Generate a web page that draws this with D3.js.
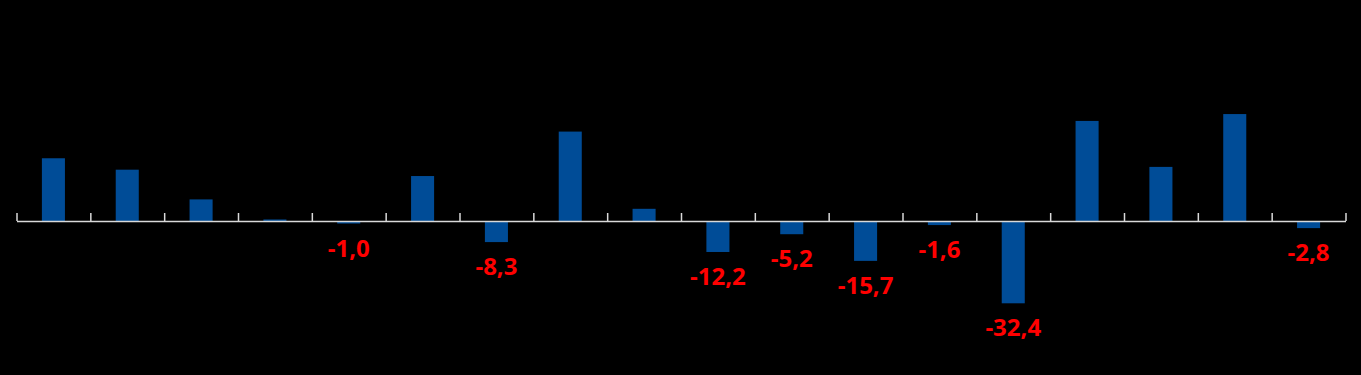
<!DOCTYPE html>
<html>
<head>
<meta charset="utf-8">
<script src="https://cdn.jsdelivr.net/npm/d3@7"></script>
<style>
  html, body { margin: 0; padding: 0; background: #000; }
  #chart { width: 1361px; height: 375px; }
</style>
</head>
<body>
<div id="chart"></div>
<script>
// podaci
const categories = ["1","2","3","4","5","6","7","8","9","10","11","12","13","14","15","16","17","18"];
const values = [24.7, 20.2, 8.5, 0.6, -1.0, 17.7, -8.3, 35.2, 4.8, -12.2, -5.2, -15.7, -1.6, -32.4, 39.4, 21.3, 42.1, -2.8];

const width = 1361;
const height = 375;

const svg = d3.select("#chart")
  .append("svg")
  .attr("width", width)
  .attr("height", height);

svg.append("rect")
  .attr("width", width)
  .attr("height", height)
  .attr("fill", "#000");

// skale
const xScale = d3.scaleBand()
  .domain(categories)
  .range([16.5, 1345.5])
  .paddingInner(0.688)
  .paddingOuter(0.344);

const xEdge = d3.scaleLinear()
  .domain([0, categories.length])
  .range([16.5, 1345.5]);

const yScale = d3.scaleLinear()
  .domain([-40, 60])
  .range([322.6, 68.6]);

//stupci
svg.selectAll(".bar")
  .data(values)
  .enter()
  .append("rect")
  .attr("class", "bar")
  .attr("x", (d, i) => xScale(categories[i]))
  .attr("y", d => yScale(Math.max(0, d)))
  .attr("width", xScale.bandwidth())
  .attr("height", d => Math.abs(yScale(d) - yScale(0)))
  .attr("fill", "#004c97");

// os
const axis = svg.append("g")
  .attr("transform", `translate(0,${yScale(0)})`)
  .call(d3.axisBottom(xEdge)
    .tickValues(d3.range(categories.length + 1))
    .tickSizeInner(-8)
    .tickSizeOuter(0)
    .tickFormat(""));
axis.selectAll("path, line")
  .attr("stroke", "#d9d9d9")
  .attr("stroke-width", 1.5);

// oznake za negativne vrijednosti
svg.selectAll(".neg-label")
  .data(values.map((v, i) => ({ v, c: categories[i] })).filter(d => d.v < 0))
  .enter()
  .append("text")
  .attr("class", "neg-label")
  .attr("x", d => xScale(d.c) + xScale.bandwidth() / 2)
  .attr("y", d => yScale(d.v) + 33)
  .attr("text-anchor", "middle")
  .attr("fill", "#ff0000")
  .attr("font-family", "'Open Sans', sans-serif")
  .attr("font-weight", "bold")
  .attr("font-size", "24px")
  .text(d => d.v.toFixed(1).replace(".", ","));
</script>
</body>
</html>
